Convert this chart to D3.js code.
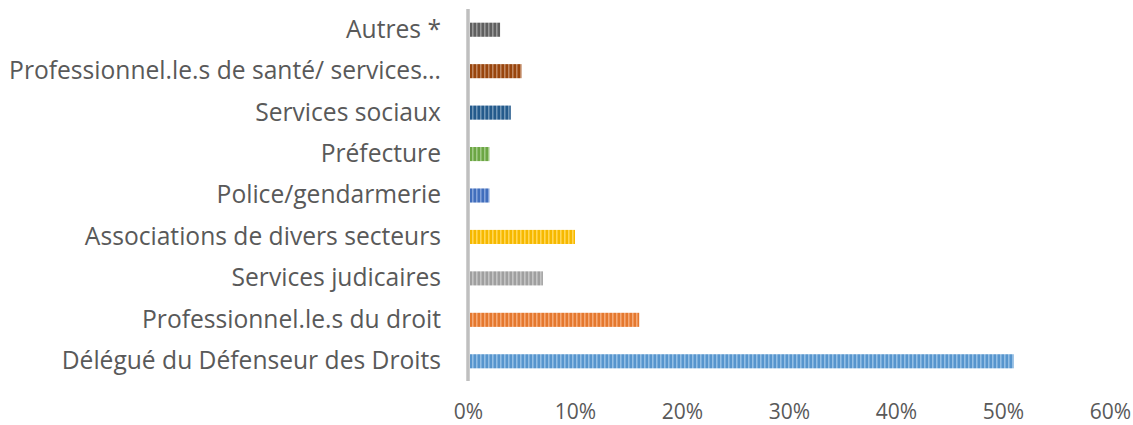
<!DOCTYPE html>
<html>
<head>
<meta charset="utf-8">
<script src="https://cdn.jsdelivr.net/npm/d3@7"></script>
<style>
  body { margin: 0; background: #fff; }
  svg { display: block; }
  .cat text, .val text { fill: #595959; font-family: "Open Sans", "Noto Sans", sans-serif; }
</style>
</head>
<body>
<svg width="1133" height="425"></svg>
<script>
// categories, bottom to top as drawn
const categories = [
    'Délégué du Défenseur des Droits',
    'Professionnel.le.s du droit',
    'Services judicaires',
    'Associations de divers secteurs',
    'Police/gendarmerie',
    'Préfecture ',
    'Services sociaux',
    'Professionnel.le.s de santé/ services…',
    'Autres *'
]
const values = [0.51, 0.16, 0.07, 0.10, 0.02, 0.02, 0.04, 0.05, 0.03]
const colors = ['#5b9bd5', '#ed7d31', '#a5a5a5', '#ffc000', '#4472c4', '#70ad47', '#255e91', '#9e480e', '#636363']
const ticks = [0, 0.1, 0.2, 0.3, 0.4, 0.5, 0.6]

const svg = d3.select('svg')

const x0 = 468
const xScale = d3.scaleLinear()
    .domain([0, 0.6])
    .range([x0, x0 + 642])

const yScale = d3.scaleBand()
    .domain(categories.slice().reverse())
    .range([9, 382])
    .paddingInner(0.66)
    .paddingOuter(0.33)

// striped fills, one per bar colour
const defs = svg.append('defs')
colors.forEach((c, i) => {
    const p = defs.append('pattern')
        .attr('id', 'stripe' + i)
        .attr('patternUnits', 'userSpaceOnUse')
        .attr('width', 4)
        .attr('height', 10)
    p.append('rect').attr('width', 4).attr('height', 10).attr('fill', c)
    p.append('rect').attr('x', 0).attr('width', 1.5).attr('height', 10)
        .attr('fill', '#fff').attr('opacity', 0.35)
    p.append('rect').attr('x', 2.5).attr('width', 1).attr('height', 10)
        .attr('fill', '#000').attr('opacity', 0.08)
})

svg.append('g')
    .selectAll('rect')
    .data(values)
    .enter()
    .append('rect')
    .attr('x', xScale(0) + 2)
    .attr('y', (d, i) => yScale(categories[i]))
    .attr('width', (d) => xScale(d) - xScale(0) - 2)
    .attr('height', yScale.bandwidth())
    .attr('fill', (d, i) => `url(#stripe${i})`)

// vertical category axis line
svg.append('line')
    .attr('x1', xScale(0))
    .attr('x2', xScale(0))
    .attr('y1', 9)
    .attr('y2', 381)
    .attr('stroke', '#bfbfbf')
    .attr('stroke-width', 3.5)

// category labels
const catAxis = svg.append('g')
    .attr('class', 'cat')
    .attr('transform', `translate(${xScale(0) - 8}, 0)`)
    .call(d3.axisLeft(yScale).tickSize(0).tickPadding(19))
catAxis.select('.domain').remove()
catAxis.selectAll('text').style('font-size', '20px')

// fit the longest label to the reference width (~432px)
const probe = catAxis.selectAll('text').filter((d) => d === categories[7]).node()
const w = probe.getComputedTextLength()
const fs = 20 * 432 / w
catAxis.selectAll('text').style('font-size', fs + 'px')

// value labels along the bottom
const valAxis = svg.append('g')
    .attr('class', 'val')
    .attr('transform', 'translate(0, 400)')
    .call(d3.axisBottom(xScale).tickValues(ticks).tickFormat(d3.format('.0%')).tickSize(0).tickPadding(0))
valAxis.select('.domain').remove()
valAxis.selectAll('text').style('font-size', '21px').attr('dy', '0.35em').attr('y', 12)
</script>
</body>
</html>
